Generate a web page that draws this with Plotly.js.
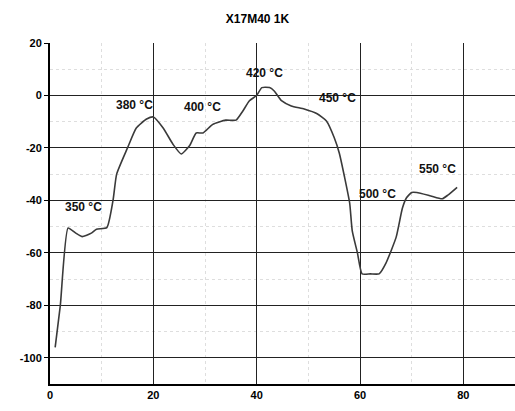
<!DOCTYPE html>
<html>
<head>
<meta charset="utf-8">
<script src="https://cdn.plot.ly/plotly-3.0.1.min.js"></script>
<style>html,body{margin:0;padding:0;background:#fff;}#chart{width:515px;height:411px;}</style>
</head>
<body>
<div id="chart"></div>
<script>
// Curve data
const xVals = [1, 2, 3.5, 5, 6.2, 8, 9, 11, 12.2, 12.9, 15, 16.7, 18.7, 20, 21.9, 23.8, 25.4, 27, 28.3, 29.6, 31.5, 34, 36, 37.3, 38.6, 40, 41, 42.5, 43.4, 44.8, 46.7, 49.2, 51.7, 53.5, 55, 56, 57, 58, 58.5, 59.5, 60.4, 62, 63.7, 65, 67, 68.2, 69, 70, 71, 73.7, 75.9, 77, 78.8];
const yVals = [-96, -80, -50.5, -52.5, -53.8, -52.5, -51, -50.4, -40, -30, -20, -12.4, -9, -8.2, -12.4, -18.6, -22.3, -19.2, -14.3, -14.3, -11, -9.4, -9.4, -6, -2, 0, 3, 3, 1.7, -2, -4, -5.2, -7, -9.7, -16, -22, -31, -41, -51.6, -60, -68, -68, -68, -64, -54, -43, -39, -37, -37, -38.3, -39.4, -38, -35];

// Temperature annotations
const labelText = ["350 °C", "380 °C", "400 °C", "420 °C", "450 °C", "500 °C", "550 °C"];
const labelX = [6.5, 16.4, 29.6, 41.5, 55.6, 63.3, 75];
const labelY = [-42.5, -3.6, -4.4, 8.7, -1, -37.5, -28];

const xTicks = [0, 20, 40, 60, 80];
const yTicks = [-100, -80, -60, -40, -20, 0, 20];

const fam = 'Liberation Sans, Arial, sans-serif';

const traces = [{
  x: xVals, y: yVals, type: 'scatter', mode: 'lines',
  line: {color: '#3a3a3a', width: 1.6, shape: 'spline', smoothing: 0.5},
  hoverinfo: 'skip'
}];

const annotations = labelText.map((t, i) => ({
  x: labelX[i], y: labelY[i], xref: 'x', yref: 'y', text: '<b>' + t + '</b>',
  showarrow: false, font: {family: fam, size: 12, color: '#111'}
}));

const layout = {
  width: 515, height: 411,
  margin: {l: 50, r: 0, t: 43, b: 27, pad: 0},
  paper_bgcolor: '#fff', plot_bgcolor: '#fff',
  showlegend: false,
  title: {text: '<b>X17M40 1K</b>', x: 0.5, xanchor: 'center', y: 0.955, yanchor: 'middle', font: {family: fam, size: 12, color: '#000'}},
  xaxis: {
    range: [0, 90], tickvals: xTicks, ticktext: xTicks.map(v => '<b>' + v + '</b>'),
    showline: true, linecolor: '#000', linewidth: 2,
    showgrid: true, gridcolor: '#222', gridwidth: 1,
    zeroline: false, ticks: '', tickfont: {family: fam, size: 11, color: '#000'},
    minor: {dtick: 10, showgrid: true, gridcolor: '#dedede', griddash: 'dot', gridwidth: 1}
  },
  yaxis: {
    range: [-110, 20], tickvals: yTicks, ticktext: yTicks.map(v => '<b>' + v + '</b>'),
    showline: true, linecolor: '#000', linewidth: 2,
    showgrid: true, gridcolor: '#222', gridwidth: 1,
    zeroline: false, ticks: 'outside', ticklen: 4, tickcolor: '#000',
    tickfont: {family: fam, size: 11, color: '#000'},
    minor: {dtick: 10, showgrid: true, gridcolor: '#dedede', griddash: 'dot', gridwidth: 1}
  },
  annotations: annotations
};

Plotly.newPlot('chart', traces, layout, {displayModeBar: false, staticPlot: true});
</script>
</body>
</html>
